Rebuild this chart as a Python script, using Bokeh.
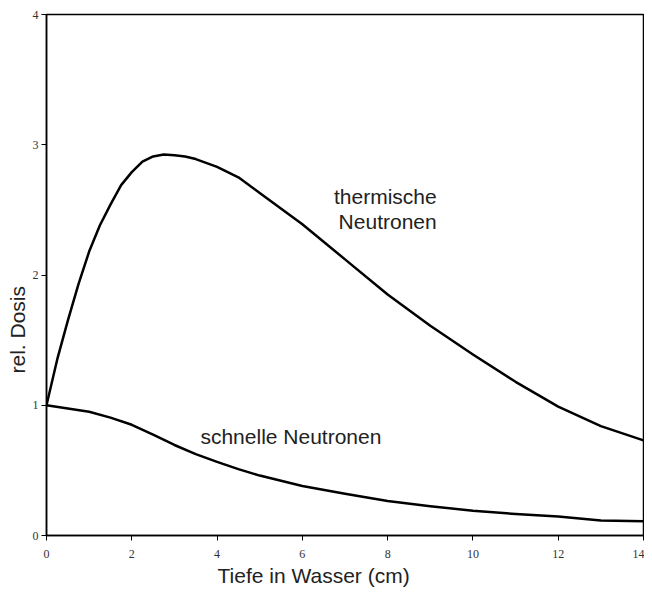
from bokeh.plotting import figure
from bokeh.models import Label, FixedTicker, Range1d, Title
from bokeh.embed import file_html
from bokeh.resources import INLINE

# Data
depth_thermal = [0, 0.25, 0.5, 0.75, 1.0, 1.25, 1.5, 1.75, 2.0, 2.25, 2.5, 2.75, 3.0, 3.25, 3.5, 4.0, 4.5, 5.0, 6, 7, 8, 9, 10, 11, 12, 13, 14]
dose_thermal = [1.0, 1.35, 1.65, 1.93, 2.18, 2.38, 2.54, 2.69, 2.79, 2.87, 2.91, 2.925, 2.92, 2.91, 2.89, 2.83, 2.75, 2.63, 2.39, 2.12, 1.85, 1.61, 1.39, 1.18, 0.99, 0.84, 0.73]

depth_fast = [0, 0.5, 1.0, 1.5, 2.0, 2.5, 3.0, 3.5, 4.0, 4.5, 5.0, 6, 7, 8, 9, 10, 11, 12, 13, 14]
dose_fast = [1.0, 0.975, 0.95, 0.905, 0.85, 0.775, 0.695, 0.625, 0.565, 0.51, 0.46, 0.38, 0.32, 0.265, 0.225, 0.19, 0.165, 0.145, 0.115, 0.11]

x_ticks = [0, 2, 4, 6, 8, 10, 12, 14]
y_ticks = [0, 1, 2, 3, 4]

x_title = "Tiefe in Wasser (cm)"
y_title = "rel. Dosis"
label_thermal = ["thermische", "Neutronen"]
label_fast = "schnelle Neutronen"

FONT = "Liberation Sans"
TICK_FONT = "Liberation Sans Narrow"
TXT = "#222222"

p = figure(width=644, height=587, output_backend="svg", toolbar_location=None,
           x_range=Range1d(0, 14), y_range=Range1d(0, 4),
           min_border_left=46, min_border_right=1, min_border_top=14, min_border_bottom=49)
p.xgrid.visible = False
p.ygrid.visible = False
p.outline_line_color = "black"
p.outline_line_width = 1.5
p.background_fill_color = "white"
p.border_fill_color = "white"

for ax, ticks in ((p.xaxis[0], x_ticks), (p.yaxis[0], y_ticks)):
    ax.ticker = FixedTicker(ticks=ticks)
    ax.minor_tick_line_color = None
    ax.major_tick_in = 0
    ax.major_tick_out = 5
    ax.axis_line_color = "black"
    ax.axis_line_width = 1.5
    ax.major_tick_line_color = "black"
    ax.major_label_text_font = TICK_FONT
    ax.major_label_text_font_size = "12px"
    ax.major_label_text_color = "#333333"
p.xaxis.major_label_standoff = 9
p.yaxis.major_label_standoff = 3

p.line(depth_thermal, dose_thermal, line_color="black", line_width=2.5, line_join="round")
p.line(depth_fast, dose_fast, line_color="black", line_width=2.5, line_join="round")

lab_kw = dict(text_font=FONT, text_font_size="21px", text_color=TXT)
p.add_layout(Label(x=9.15, y=2.60, text=label_thermal[0], text_align="right", text_baseline="alphabetic", **lab_kw))
p.add_layout(Label(x=9.15, y=2.41, text=label_thermal[1], text_align="right", text_baseline="alphabetic", **lab_kw))
p.add_layout(Label(x=3.61, y=0.763, text=label_fast, text_align="left", text_baseline="alphabetic", **lab_kw))

# axis titles, placed off-centre as in the reference
title_kw = dict(text_font=FONT, text_font_size="21px", text_color=TXT, text_font_style="normal", align="left")
p.add_layout(Title(text=x_title, offset=171, standoff=2, **title_kw), "below")
p.add_layout(Title(text=y_title, offset=162, standoff=2, **title_kw), "left")

open("out.html", "w").write(file_html(p, INLINE))
